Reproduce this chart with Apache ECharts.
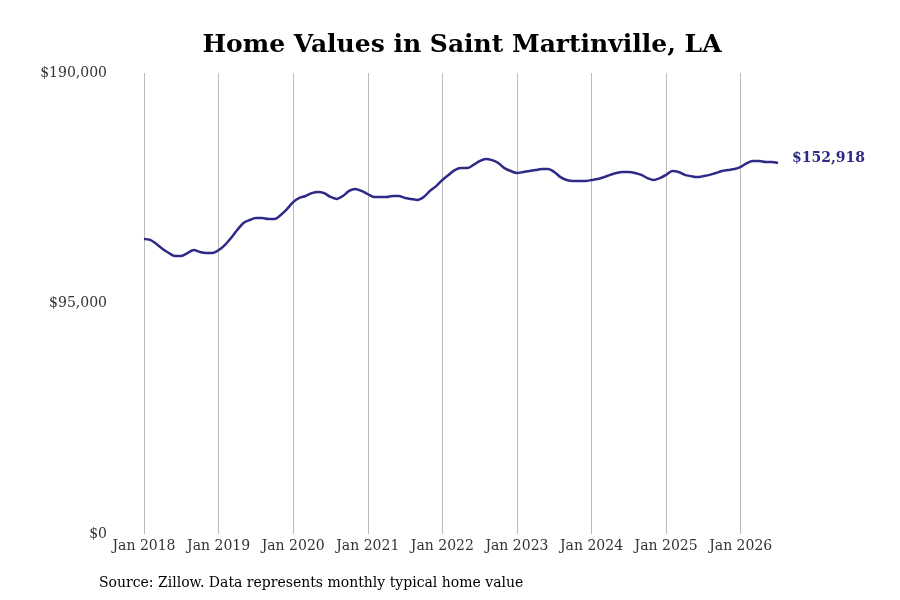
<!DOCTYPE html>
<html>
<head>
<meta charset="utf-8">
<title>Home Values in Saint Martinville, LA</title>
<style>
    * { margin: 0; padding: 0; }
    #main { width: 900px; height: 600px; background: #fff; }
</style>
</head>
<body>
<div id="main"></div>
<script src="https://cdn.jsdelivr.net/npm/echarts@6/dist/echarts.min.js"></script>
<script>
    // monthly typical home value, Jan 2018 .. Jul 2026
    var startYear = 2018;
    var values = [
        121600, 121200, 119500, 117500, 115800, 114600, 114600, 115800, 117000, 116200, 115800, 115800,
        117000, 119100, 122000, 125300, 128200, 129400, 130200, 130200, 129800, 129800, 131500, 133900,
        136800, 138500, 139300, 140500, 141000, 140500, 138900, 138100, 139300, 141400, 142200, 141400,
        140100, 138900, 138900, 138900, 139300, 139300, 138500, 138100, 137700, 138900, 141400, 143400,
        145900, 148000, 150000, 150800, 150800, 152100, 153700, 154600, 154100, 152900, 150800, 149600,
        148800, 149200, 149600, 150000, 150400, 150400, 149200, 147100, 145900, 145500, 145500, 145500,
        145900, 146300, 147100, 148000, 148800, 149200, 149200, 148800, 148000, 146700, 145900, 146700,
        148000, 149600, 149200, 148000, 147500, 147100, 147500, 148000, 148800, 149600, 150000, 150400,
        151300, 152900, 153700, 153700, 153300, 153300, 152918
    ];
    var yTicks = [0, 95000, 190000];
    var monthNames = ['Jan', 'Feb', 'Mar', 'Apr', 'May', 'Jun', 'Jul', 'Aug', 'Sep', 'Oct', 'Nov', 'Dec'];

    var months = [];
    for (var i = 0; i < values.length; i++) {
        months.push(monthNames[i % 12] + ' ' + (startYear + Math.floor(i / 12)));
    }

    function money(v) {
        return '$' + v.toLocaleString('en-US');
    }
    function isJan(index) {
        return index % 12 === 0;
    }

    var font = 'DejaVu Serif';
    var lineColor = '#2e2a86';
    var chart = echarts.init(document.getElementById('main'));
    chart.setOption({
        animation: false,
        title: {
            text: 'Home Values in Saint Martinville, LA',
            left: 457,
            top: 28,
            textAlign: 'center',
            textStyle: { fontFamily: font, fontSize: 25, fontWeight: 'bold', color: '#000' }
        },
        graphic: [{
            type: 'text',
            left: 99,
            top: 576,
            style: {
                text: 'Source: Zillow. Data represents monthly typical home value',
                fontFamily: font, fontSize: 14, fill: '#000'
            }
        }],
        grid: { left: 144, right: 122, top: 73, bottom: 66, containLabel: false },
        xAxis: {
            type: 'category',
            data: months,
            boundaryGap: false,
            axisLine: { show: false },
            axisTick: { show: false },
            axisLabel: {
                interval: function (index) { return isJan(index); },
                fontFamily: font, fontSize: 14, color: '#333', margin: 5
            },
            splitLine: {
                show: true,
                interval: function (index) { return isJan(index); },
                lineStyle: { color: '#bbb', width: 1 }
            }
        },
        yAxis: {
            type: 'value',
            min: yTicks[0],
            max: yTicks[yTicks.length - 1],
            interval: yTicks[1] - yTicks[0],
            axisLine: { show: false },
            axisTick: { show: false },
            splitLine: { show: false },
            axisLabel: {
                formatter: money,
                fontFamily: font, fontSize: 14, color: '#333', margin: 37,
                padding: [2, 0, 0, 0]
            }
        },
        series: [{
            type: 'line',
            data: values,
            smooth: 0.3,
            symbol: 'none',
            lineStyle: { color: lineColor, width: 2.5 },
            endLabel: {
                show: true,
                distance: 14,
                offset: [0, -5],
                formatter: function (p) { return money(p.value); },
                fontFamily: font, fontSize: 14, fontWeight: 'bold', color: lineColor
            }
        }]
    });
</script>
</body>
</html>
